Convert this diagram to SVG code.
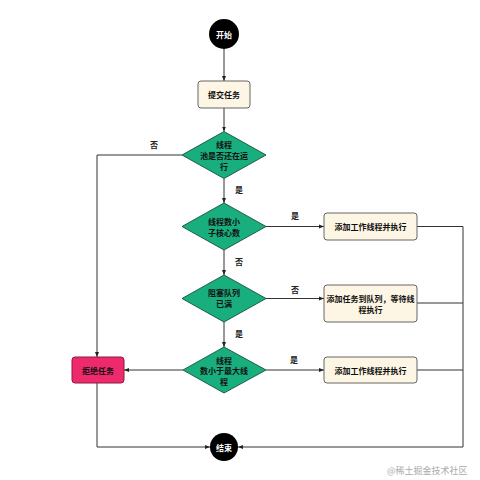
<svg xmlns="http://www.w3.org/2000/svg" width="480" height="480" viewBox="0 0 480 480">
<defs>
<marker id="arr" viewBox="0 0 10 10" refX="10" refY="5" markerWidth="5" markerHeight="5" orient="auto" markerUnits="userSpaceOnUse">
<path d="M0,1 L10,5 L0,9 z" fill="#222"/>
</marker>
</defs>
<style>
.t{font-family:"Noto Sans CJK SC","Liberation Sans",sans-serif;font-size:8px;font-weight:bold;fill:#111;text-anchor:middle;dominant-baseline:central}
.tw{fill:#fff}
.lbl{font-family:"Noto Sans CJK SC","Liberation Sans",sans-serif;font-size:8px;font-weight:bold;fill:#222;text-anchor:middle;dominant-baseline:central}
.box{fill:#FDF6E4;stroke:#666;stroke-width:1}
.dia{fill:#19AE7E;stroke:#1f5f45;stroke-width:1}
.circ{fill:#000}
.ln{fill:none;stroke:#333;stroke-width:1}
.wm{font-family:"Noto Sans CJK SC","Liberation Sans",sans-serif;font-size:9px;fill:#aaa}
</style>
<rect width="480" height="480" fill="#fff"/>
<g id="connectors">
<path class="ln" d="M224,49 L224,81" marker-end="url(#arr)"/>
<path class="ln" d="M224,108 L224,131.5" marker-end="url(#arr)"/>
<path class="ln" d="M224,178.5 L224,203" marker-end="url(#arr)"/>
<path class="ln" d="M224,250 L224,275" marker-end="url(#arr)"/>
<path class="ln" d="M224,322 L224,347" marker-end="url(#arr)"/>
<path class="ln" d="M182,155 L97,155 L97,357" marker-end="url(#arr)"/>
<path class="ln" d="M266,226.5 L324,226.5" marker-end="url(#arr)"/>
<path class="ln" d="M266,298.5 L324,298.5" marker-end="url(#arr)"/>
<path class="ln" d="M266,370 L324,370" marker-end="url(#arr)"/>
<path class="ln" d="M183,370 L124,370" marker-end="url(#arr)"/>
<path class="ln" d="M97,383 L97,447 L210,447" marker-end="url(#arr)"/>
<path class="ln" d="M417,226.5 L463,226.5 L463,447 L238,447" marker-end="url(#arr)"/>
<path class="ln" d="M417,303 L463,303"/>
<path class="ln" d="M417,370 L463,370"/>
<text class="lbl" x="154" y="144">否</text>
<text class="lbl" x="239" y="189">是</text>
<text class="lbl" x="295" y="215">是</text>
<text class="lbl" x="239" y="261">否</text>
<text class="lbl" x="295" y="289">否</text>
<text class="lbl" x="239" y="333">是</text>
<text class="lbl" x="294" y="359">是</text>
</g>
<g id="start">
<circle class="circ" cx="224" cy="34" r="15"/>
<text class="t tw" x="224" y="34">开始</text>
</g>
<g id="submit">
<rect class="box" x="198" y="81" width="52" height="27" rx="3"/>
<text class="t" x="224" y="94.5">提交任务</text>
</g>
<g id="d1">
<polygon class="dia" points="224,131.5 266,155 224,178.5 182,155"/>
<text class="t" x="224" y="144">线程</text>
<text class="t" x="224" y="155">池是否还在运</text>
<text class="t" x="224" y="166">行</text>
</g>
<g id="d2">
<polygon class="dia" points="224,203 266,226.5 224,250 182,226.5"/>
<text class="t" x="224" y="221.5">线程数小</text>
<text class="t" x="224" y="232.5">子核心数</text>
</g>
<g id="d3">
<polygon class="dia" points="224,275 266,298.5 224,322 182,298.5"/>
<text class="t" x="224" y="292.5">阻塞队列</text>
<text class="t" x="224" y="303.5">已满</text>
</g>
<g id="d4">
<polygon class="dia" points="224,347 266,370 224,393 183,370"/>
<text class="t" x="224" y="360">线程</text>
<text class="t" x="224" y="370.5">数小于最大线</text>
<text class="t" x="224" y="381">程</text>
</g>
<g id="b1">
<rect class="box" x="324" y="213" width="93" height="27" rx="3"/>
<text class="t" x="370.5" y="226.5">添加工作线程并执行</text>
</g>
<g id="b2">
<rect class="box" x="324" y="285" width="93" height="37" rx="3"/>
<text class="t" x="370.5" y="298">添加任务到队列，等待线</text>
<text class="t" x="370.5" y="309">程执行</text>
</g>
<g id="b3">
<rect class="box" x="324" y="357" width="93" height="26" rx="3"/>
<text class="t" x="370.5" y="370">添加工作线程并执行</text>
</g>
<g id="reject">
<rect x="72" y="357" width="52" height="26" rx="3" fill="#EE2A6C" stroke="#8a1a40" stroke-width="1"/>
<text class="t" x="98" y="370">拒绝任务</text>
</g>
<g id="end">
<circle class="circ" cx="224" cy="447" r="14"/>
<text class="t tw" x="224" y="447">结束</text>
</g>
<text class="wm" x="387" y="474">@稀土掘金技术社区</text>
</svg>
